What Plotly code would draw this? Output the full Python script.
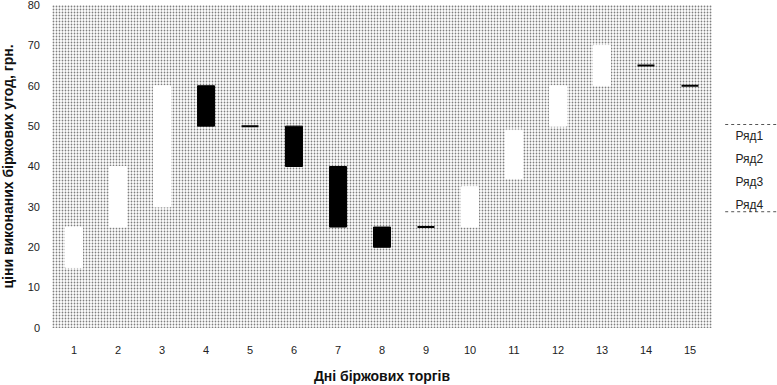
import plotly.graph_objects as go
import numpy as np

# ---- data ----
days = list(range(1, 16))
open_vals = [15, 25, 30, 60, 50, 50, 40, 25, 25, 25, 37, 50, 60, 65, 60]
close_vals = [25, 40, 60, 50, 50, 40, 25, 20, 25, 35, 49, 60, 70, 65, 60]
high_vals = [max(o, c) for o, c in zip(open_vals, close_vals)]
low_vals = [min(o, c) for o, c in zip(open_vals, close_vals)]
series_names = ["Ряд1", "Ряд2", "Ряд3", "Ряд4"]
y_ticks = [0, 10, 20, 30, 40, 50, 60, 70, 80]

x_title = "Дні біржових торгів"
y_title = "ціни виконаних біржових угод, грн."

FONT = "Liberation Sans, Arial, sans-serif"
y_max = y_ticks[-1]

o = np.array(open_vals)
c = np.array(close_vals)
d = np.array(days)
h = np.array(high_vals)
lo = np.array(low_vals)
moving = o != c
flat = ~moving

fig = go.Figure()

# dotted plot-area background (spans the full axis range)
fig.add_trace(go.Bar(
    x=[np.mean(days)], y=[y_max], base=0, width=[len(days)],
    marker=dict(color="white", line=dict(width=0),
                pattern=dict(shape=".", fgcolor="#000000", bgcolor="#ffffff",
                             size=3, solidity=0.27, fillmode="overlay")),
    showlegend=False, hoverinfo="skip"))

# candles that move
fig.add_trace(go.Candlestick(
    x=d[moving], open=o[moving], high=h[moving], low=lo[moving], close=c[moving],
    increasing=dict(fillcolor="white", line=dict(color="white", width=1)),
    decreasing=dict(fillcolor="black", line=dict(color="black", width=1)),
    whiskerwidth=0, showlegend=False, hoverinfo="skip"))

# flat days (open == close) drawn as dashes
fig.add_trace(go.Candlestick(
    x=d[flat], open=o[flat], high=h[flat], low=lo[flat], close=c[flat],
    increasing=dict(fillcolor="black", line=dict(color="black", width=2)),
    decreasing=dict(fillcolor="black", line=dict(color="black", width=2)),
    whiskerwidth=0, showlegend=False, hoverinfo="skip"))

# legend entries (text only)
for name in series_names:
    fig.add_trace(go.Scatter(x=[None], y=[None], mode="lines", name=name,
                             legendgroup=name,
                             line=dict(color="rgba(0,0,0,0)", width=0)))

fig.update_layout(
    width=777, height=385,
    margin=dict(l=52, r=65, t=5, b=57, autoexpand=False),
    paper_bgcolor="white", plot_bgcolor="white",
    font=dict(family=FONT, size=11, color="#222222"),
    boxgap=0.45, boxmode="overlay",
    showlegend=True, hovermode=False,
    legend=dict(x=0.975, y=0.489, xanchor="left", yanchor="middle",
                bgcolor="rgba(0,0,0,0)", itemwidth=30,
                font=dict(family=FONT, size=12, color="#222222"),
                tracegroupgap=4, traceorder="grouped"),
    xaxis=dict(range=[0.5, 15.5], tickmode="array", tickvals=days,
               ticktext=[str(v) for v in days], showgrid=False, zeroline=False,
               rangeslider=dict(visible=False), showline=False, automargin=False,
               ticks="", ticklabelstandoff=14,
               title=dict(text=x_title, standoff=16,
                          font=dict(family=FONT, size=14, color="#111111", weight="bold"))),
    yaxis=dict(range=[0, y_max], tickmode="array", tickvals=y_ticks, showgrid=False,
               zeroline=False, showline=False, ticks="", ticklabelstandoff=11,
               automargin=False, ticklabeloverflow="allow",
               title=dict(text=y_title, standoff=10,
                          font=dict(family=FONT, size=14, color="#111111", weight="bold"))),
    shapes=[
        dict(type="line", xref="paper", yref="paper", x0=1.02, x1=1.1, y0=0.63, y1=0.63,
             line=dict(color="#555555", width=1, dash="dot")),
        dict(type="line", xref="paper", yref="paper", x0=1.02, x1=1.1, y0=0.36, y1=0.36,
             line=dict(color="#555555", width=1, dash="dot")),
    ],
)

fig.write_html("out.html", config={"displayModeBar": False},
               post_script="document.body.style.margin='0px';document.body.style.padding='0px';")
